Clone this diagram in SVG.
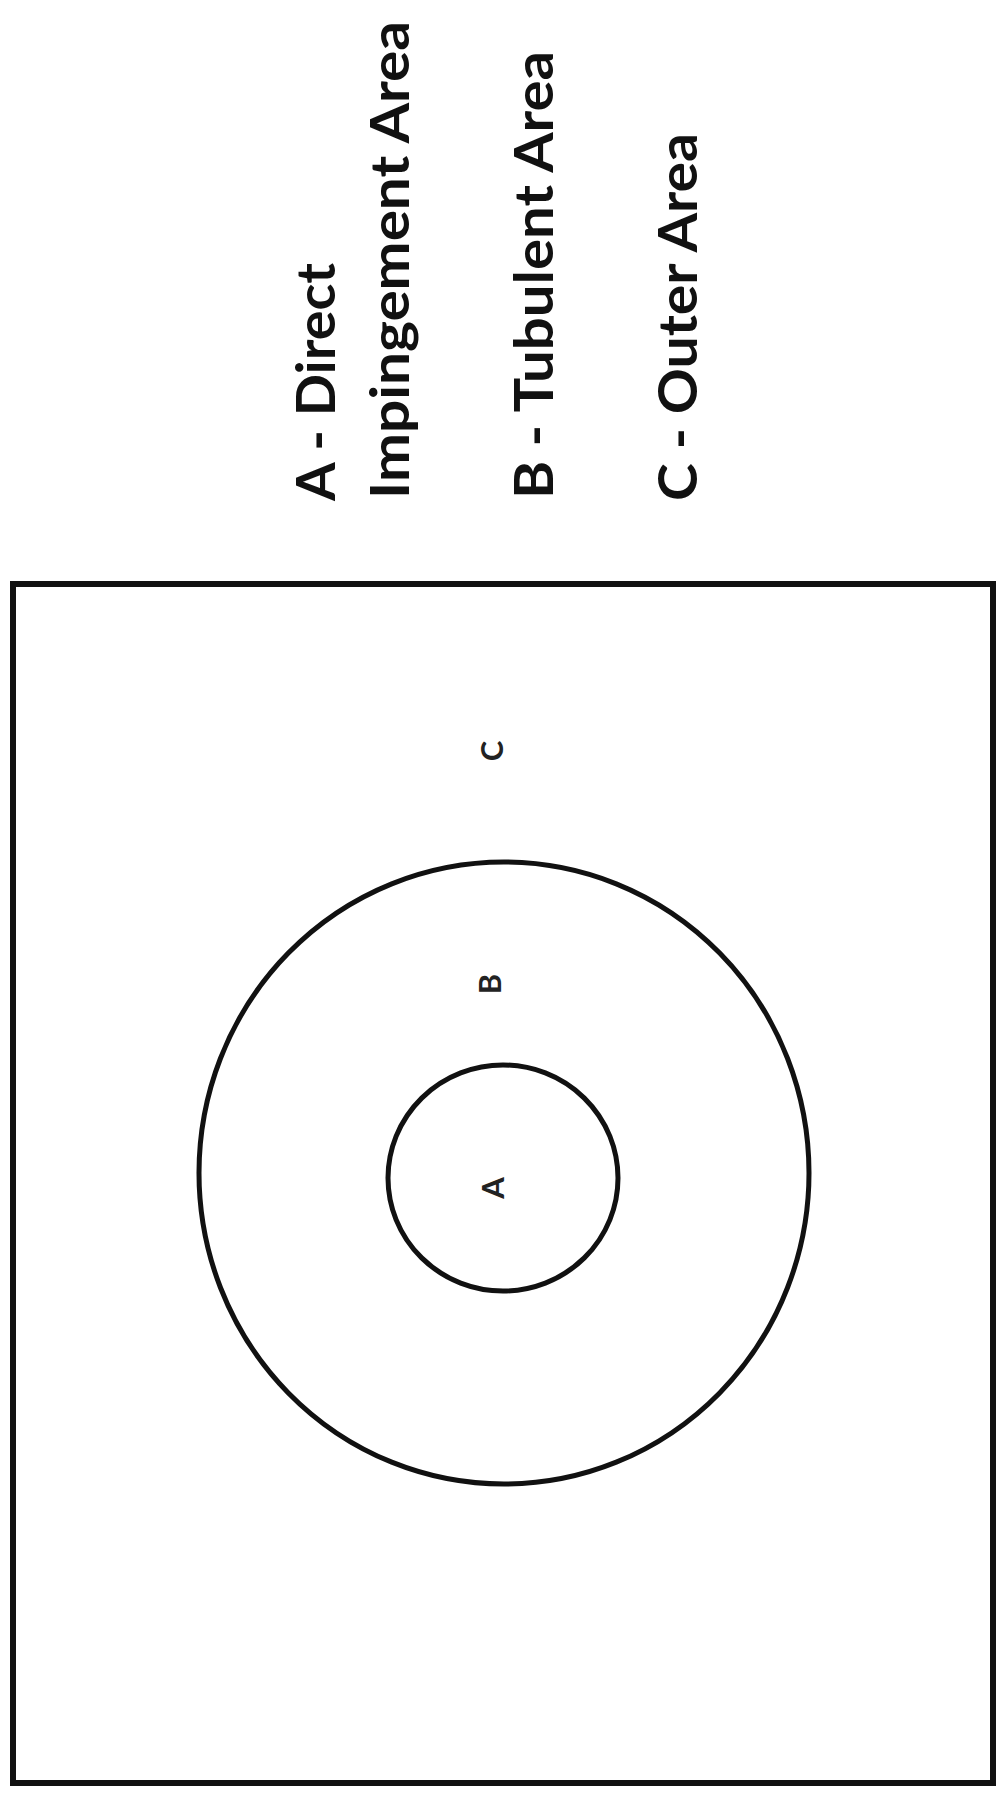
<svg xmlns="http://www.w3.org/2000/svg" width="997" height="1797" viewBox="0 0 997 1797">
<style>
.line{fill:none;stroke:#111;}
.legend{font-family:Lato,"Open Sans","Liberation Sans",sans-serif;font-weight:700;font-size:54px;fill:#111;}
.zone{font-family:Lato,"Open Sans","Liberation Sans",sans-serif;font-weight:700;font-size:31px;fill:#222;text-anchor:middle;}
</style>
<rect width="997" height="1797" fill="#ffffff"/>
<g id="legend">
<text class="legend" transform="translate(335,501) rotate(-90)" textLength="238" lengthAdjust="spacingAndGlyphs">A - Direct</text>
<text class="legend" transform="translate(409,499) rotate(-90)" textLength="478" lengthAdjust="spacingAndGlyphs">Impingement Area</text>
<text class="legend" transform="translate(553,499) rotate(-90)" textLength="448" lengthAdjust="spacingAndGlyphs">B - Tubulent Area</text>
<text class="legend" transform="translate(697,501) rotate(-90)" textLength="368" lengthAdjust="spacingAndGlyphs">C - Outer Area</text>
</g>
<g id="frame">
<rect class="line" x="13" y="584" width="980" height="1199" stroke-width="6"/>
</g>
<g id="zoneC">
<text class="zone" transform="translate(503,751) rotate(-90)">C</text>
</g>
<g id="zoneB">
<ellipse class="line" cx="504" cy="1173" rx="305" ry="311" stroke-width="5"/>
<text class="zone" transform="translate(501,984) rotate(-90)">B</text>
</g>
<g id="zoneA">
<ellipse class="line" cx="503" cy="1178" rx="115" ry="113" stroke-width="5"/>
<text class="zone" transform="translate(504,1188) rotate(-90)">A</text>
</g>
</svg>
